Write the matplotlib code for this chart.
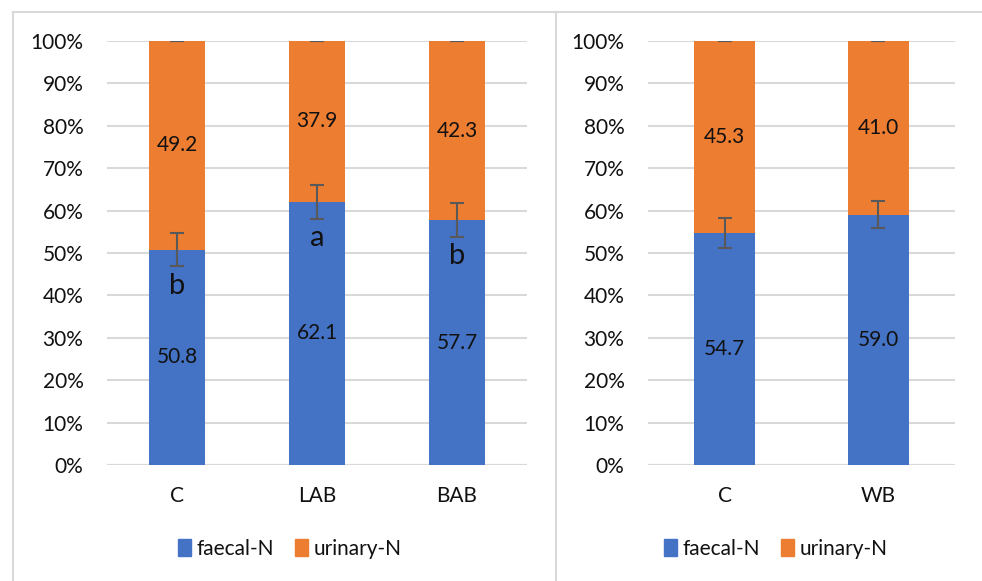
import numpy as np
import matplotlib.pyplot as plt
from matplotlib.lines import Line2D
from matplotlib.patches import Patch

plt.rcParams['font.family'] = ['Lato', 'DejaVu Sans']

# left panel
cats_l = ["C", "LAB", "BAB"]
faecal_l = [50.8, 62.1, 57.7]
urinary_l = [49.2, 37.9, 42.3]
err_l = [3.9, 4.0, 4.0]
letters_l = ["b", "a", "b"]

# right panel
cats_r = ["C", "WB"]
faecal_r = [54.7, 59.0]
urinary_r = [45.3, 41.0]
err_r = [3.5, 3.2]

blue = "#4472C4"
orange = "#ED7D31"
grid_c = "#d9d9d9"
txt_c = "#111111"

fig = plt.figure(figsize=(9.82, 5.81), dpi=100)
ax1 = fig.add_axes([107 / 982, 1 - 465 / 581, 420 / 982, 424 / 581])
ax2 = fig.add_axes([648 / 982, 1 - 465 / 581, 307 / 982, 424 / 581])


def draw(ax, cats, faecal, urinary, err, letters=None):
    x = np.arange(len(cats))
    ax.bar(x, faecal, width=0.4, color=blue, zorder=2, label="faecal-N")
    ax.bar(x, urinary, width=0.4, bottom=faecal, color=orange, zorder=2,
           label="urinary-N")
    ax.errorbar(x, faecal, yerr=err, fmt="none", ecolor="#595959",
                elinewidth=1.5, capsize=5, capthick=1.5, zorder=3)
    tops = np.array(faecal) + np.array(urinary)
    ax.errorbar(x, tops, yerr=0, fmt="none", ecolor="#595959",
                elinewidth=1.5, capsize=5, capthick=1.5, zorder=3)
    for i in range(len(cats)):
        ax.text(x[i], faecal[i] / 2, f"{faecal[i]:.1f}", ha="center",
                va="center", fontsize=15, color=txt_c, zorder=4)
        ax.text(x[i], faecal[i] + urinary[i] / 2, f"{urinary[i]:.1f}",
                ha="center", va="center", fontsize=15, color=txt_c, zorder=4)
        if letters:
            ax.text(x[i], faecal[i] - 8.5, letters[i], ha="center",
                    va="center", fontsize=21, color=txt_c, zorder=4)
    ax.set_xlim(-0.5, len(cats) - 0.5)
    ax.set_ylim(0, 100)
    ax.set_yticks(np.arange(0, 101, 10))
    ax.set_yticklabels([f"{v}%" for v in range(0, 101, 10)])
    ax.set_xticks(x)
    ax.set_xticklabels(cats)
    ax.yaxis.grid(True, color=grid_c, linewidth=1.5, zorder=0)
    ax.set_axisbelow(True)
    for s in ax.spines.values():
        s.set_visible(False)
    ax.tick_params(length=0, labelsize=15, labelcolor=txt_c)
    ax.tick_params(axis="x", pad=15)
    ax.tick_params(axis="y", pad=17)
    ax.axhline(0, color=grid_c, linewidth=1.5, zorder=1)
    handles = [Patch(color=blue, label="faecal-N"),
               Patch(color=orange, label="urinary-N")]
    return handles


h = draw(ax1, cats_l, faecal_l, urinary_l, err_l, letters_l)
draw(ax2, cats_r, faecal_r, urinary_r, err_r)

leg_kw = dict(ncol=2, frameon=False, fontsize=15, handlelength=0.6,
              handleheight=0.9, handletextpad=0.3, columnspacing=1.0,
              loc="center", labelcolor=txt_c)
fig.legend(handles=h, bbox_to_anchor=(290 / 982, 1 - 549 / 581), **leg_kw)
fig.legend(handles=h, bbox_to_anchor=(776 / 982, 1 - 549 / 581), **leg_kw)

# panel borders
for xs, ys in [([13, 13], [12, 581]), ([556, 556], [12, 581]),
               ([13, 982], [12, 12])]:
    fig.add_artist(Line2D([v / 982 for v in xs], [1 - v / 581 for v in ys],
                          color=grid_c, linewidth=1.5))

fig.savefig("out.png", dpi=100)
